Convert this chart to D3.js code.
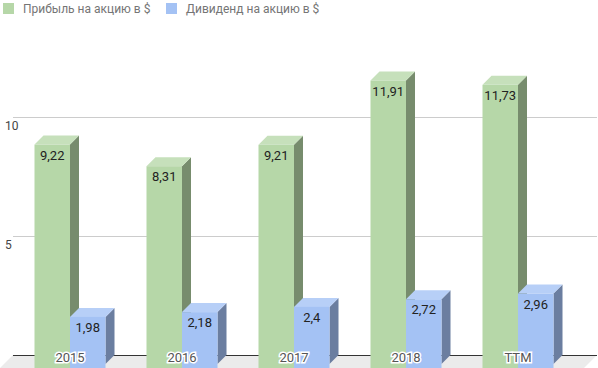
<!DOCTYPE html>
<html>
<head>
<meta charset="utf-8">
<script src="https://cdn.jsdelivr.net/npm/d3@7"></script>
<style>
  body { margin: 0; background: #fff; }
  svg { display: block; font-family: Roboto, Arial, sans-serif; }
</style>
</head>
<body>
<div id="chart"></div>
<script>
// Data
const categories = ["2015", "2016", "2017", "2018", "TTM"]
const profit = [9.22, 8.31, 9.21, 11.91, 11.73]
const dividend = [1.98, 2.18, 2.4, 2.72, 2.96]
const seriesNames = ["Прибыль на акцию в $", "Дивиденд на акцию в $"]
const yTicks = [5, 10]

const width = 598, height = 368
const depth = 9         // 3d offset of bars
const floorDepth = 13
const backLeft = 13, backRight = 597, baseY = 355

// colors: front, top, side
const colors = [
  { front: "#b6d7a8", top: "#c6e0bb", side: "#778c6d" },
  { front: "#a4c2f4", top: "#b7cff7", side: "#6b7ea0" }
]

const svg = d3.select("#chart").append("svg")
  .attr("width", width)
  .attr("height", height)

const y = d3.scaleLinear().domain([0, 10]).range([baseY, baseY - 238])

const x = d3.scaleBand()
  .domain(categories)
  .range([14, 574])
  .paddingInner(0.366)
  .paddingOuter(0.183)

const xs = d3.scaleBand()
  .domain([0, 1])
  .range([0, x.bandwidth()])

// floor
svg.append("path")
  .attr("fill", "#ebebeb")
  .attr("d", `M${backLeft},${baseY}L${backRight},${baseY}L${backRight - floorDepth},${baseY + floorDepth}L${backLeft - floorDepth},${baseY + floorDepth}Z`)

// gridlines on the back wall
svg.append("g")
  .selectAll("line")
  .data(yTicks)
  .join("line")
  .attr("x1", backLeft).attr("x2", backRight)
  .attr("y1", d => y(d) + 0.5).attr("y2", d => y(d) + 0.5)
  .attr("stroke", "#cccccc")

svg.append("line")
  .attr("x1", backLeft).attr("x2", backRight)
  .attr("y1", baseY + 0.5).attr("y2", baseY + 0.5)
  .attr("stroke", "#333333")

// y labels, projected to front plane
svg.append("g")
  .selectAll("text")
  .data(yTicks)
  .join("text")
  .attr("x", 5)
  .attr("y", d => y(d) + depth + 4)
  .attr("font-size", 12)
  .attr("fill", "#444")
  .text(d => d)

const fmt = v => String(v).replace(".", ",")

// bars
categories.forEach((c, i) => {
  [profit[i], dividend[i]].forEach((v, s) => {
    const col = colors[s]
    const x0 = x(c) + xs(s)
    const x1 = x0 + xs.bandwidth()
    const ft = y(v) + depth
    const g = svg.append("g")
    g.append("path")
      .attr("fill", col.side)
      .attr("d", `M${x1},${ft}L${x1 + depth},${ft - depth}L${x1 + depth},${baseY}L${x1},${baseY + depth}Z`)
    g.append("path")
      .attr("fill", col.top)
      .attr("d", `M${x0},${ft}L${x0 + depth},${ft - depth}L${x1 + depth},${ft - depth}L${x1},${ft}Z`)
    g.append("rect")
      .attr("x", x0)
      .attr("y", ft)
      .attr("width", x1 - x0)
      .attr("height", baseY + floorDepth - ft)
      .attr("fill", col.front)
    g.append("text")
      .attr("x", (x0 + x1) / 2)
      .attr("y", ft + 15)
      .attr("text-anchor", "middle")
      .attr("font-size", 13)
      .attr("fill", "#222")
      .text(fmt(v))
  })
})

// category labels with white halo
svg.append("g")
  .selectAll("text")
  .data(categories)
  .join("text")
  .attr("x", d => x(d) + x.bandwidth() / 2)
  .attr("y", 362)
  .attr("text-anchor", "middle")
  .attr("font-size", 13)
  .attr("fill", "#555")
  .attr("stroke", "#fff")
  .attr("stroke-width", 3)
  .attr("paint-order", "stroke")
  .text(d => d)

// legend
const legendX = [3, 166]
const legend = svg.append("g")
  .selectAll("g")
  .data(seriesNames)
  .join("g")
  .attr("transform", (d, i) => `translate(${legendX[i]},3)`)
legend.append("rect")
  .attr("width", 11).attr("height", 11)
  .attr("fill", (d, i) => colors[i].front)
legend.append("text")
  .attr("x", 20)
  .attr("y", 10)
  .attr("font-size", 12)
  .attr("fill", "#757575")
  .text(d => d)
</script>
</body>
</html>
